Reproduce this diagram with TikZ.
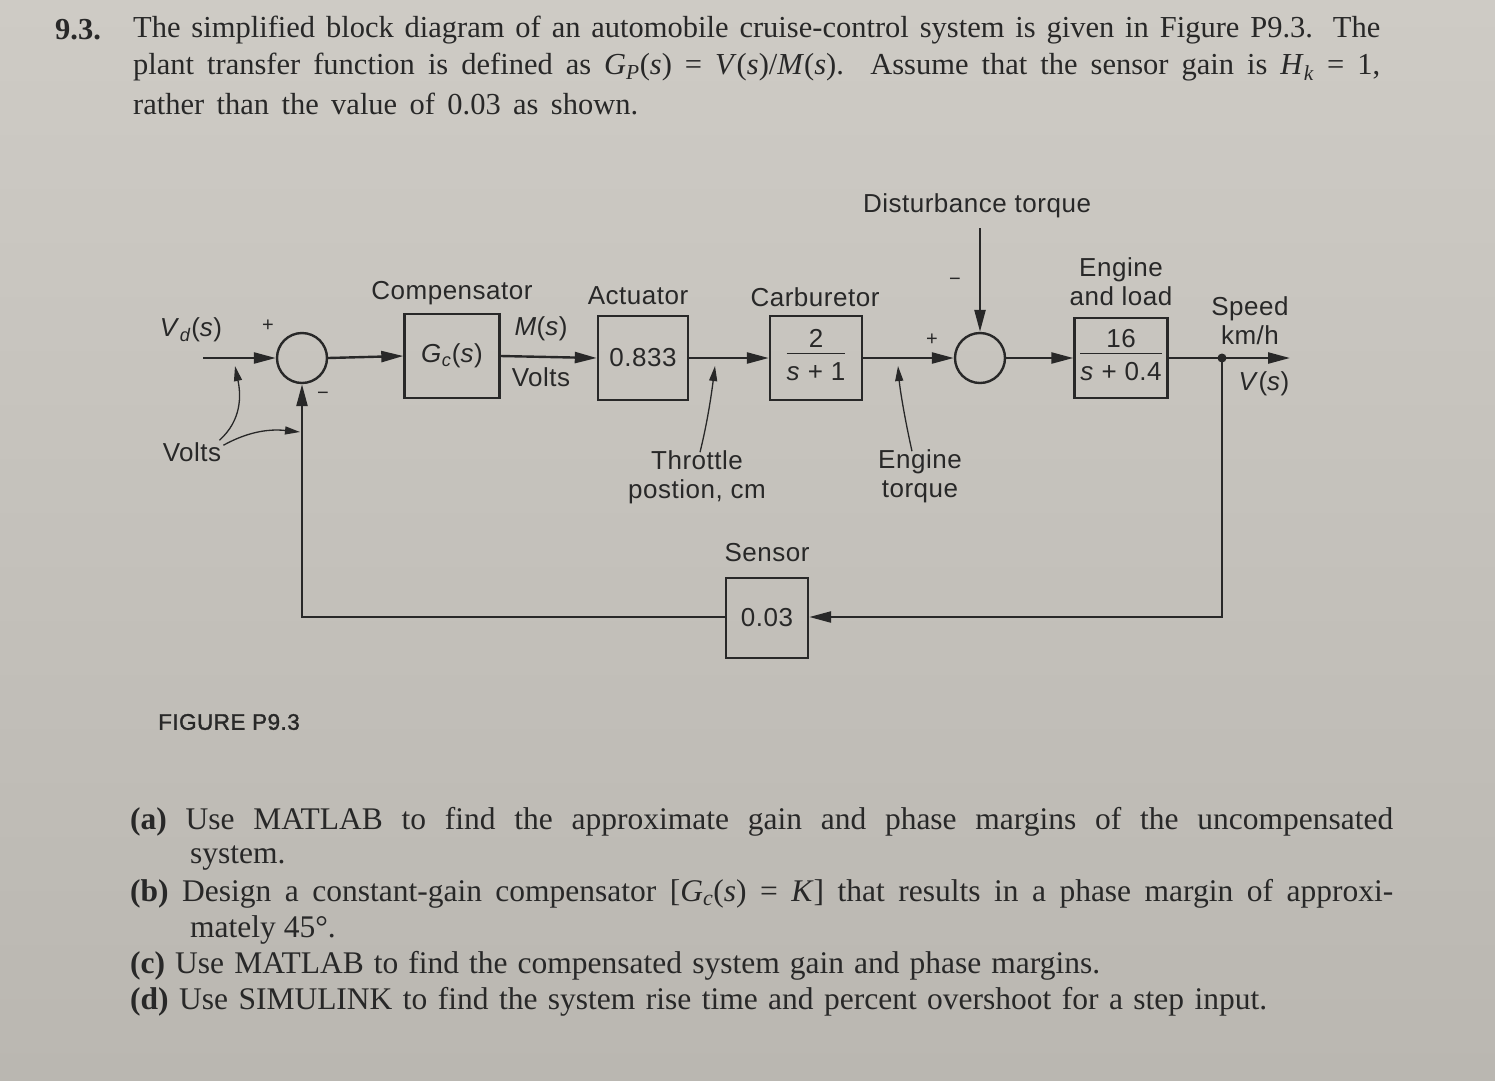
\documentclass[tikz,border=0pt]{standalone}
\usepackage{fontspec}
\setmainfont{Liberation Serif}
\newfontfamily\dsans[LetterSpace=2]{Liberation Sans}
\newfontfamily\figfont[FakeBold=1.5,LetterSpace=2]{Liberation Sans}
\usetikzlibrary{arrows.meta,calc}
\definecolor{ink}{RGB}{40,40,40}
\definecolor{paperA}{RGB}{206,203,197}
\definecolor{paperB}{RGB}{186,183,177}
\newcommand\tfr[2]{\begin{tabular}{@{}c@{}}#1\\[-3pt]\hline\rule{0pt}{26pt}#2\end{tabular}}
\setlength{\arrayrulewidth}{1.6pt}
\begin{document}
\begin{tikzpicture}[x=1pt,y=-1pt,
  blk/.style={draw=ink, line width=2.4pt, minimum width=92pt, minimum height=84pt, inner sep=2pt, font=\dsans\fontsize{26}{28}\selectfont, text=ink},
  sumj/.style={draw=ink, circle, line width=2.4pt, minimum size=50pt, inner sep=0pt},
  sig/.style={draw=ink, line width=2.4pt, -{Triangle[length=22pt,width=11pt]}},
  ann/.style={draw=ink, line width=1.3pt, -{Triangle[length=15pt,width=8pt]}},
  lbl/.style={font=\dsans\fontsize{26}{29}\selectfont, text=ink, inner sep=0pt, align=center},
  sgn/.style={font=\dsans\fontsize{20}{22}\selectfont, text=ink, inner sep=0pt},
  ttl/.style={font=\fontsize{30.5}{33}\selectfont, text=ink, inner sep=0pt, anchor=west},
  qst/.style={font=\fontsize{31.5}{33}\selectfont, text=ink, inner sep=0pt, anchor=west},
]
% paper
\shade[top color=paperA, bottom color=paperB] (0,0) rectangle (1495,1080);
\useasboundingbox (0,0) rectangle (1495,1080);

% problem statement
\node[ttl, font=\bfseries\fontsize{30.5}{33}\selectfont] (num) at (55,30) {9.3.};
\node[ttl] (t1) at (133,30) {\makebox[1247pt][s]{The simplified block diagram of an automobile cruise-control system is given in Figure P9.3. The}};
\node[ttl] (t2) at (133,67) {\makebox[1247pt][s]{plant transfer function is defined as \textit{G}\textsubscript{\textit{P}}(\textit{s}) = \textit{V}(\textit{s})/\textit{M}(\textit{s}). Assume that the sensor gain is \textit{H}\textsubscript{\textit{k}} = 1,}};
\node[ttl] (t3) at (133,104) {\makebox[505pt][s]{rather than the value of 0.03 as shown.}};

% blocks
\node[sumj] (s1) at (302,358) {};
\node[blk, minimum width=95pt] (gc) at (452,356) {\textit{G}\textsubscript{\textit{c}}(\textit{s})};
\node[blk, minimum width=90pt] (act) at (643,358) {0.833};
\node[blk] (carb) at (816,358) {\tfr{2}{\textit{s} + 1}};
\node[sumj] (s2) at (980,358) {};
\node[blk, minimum width=93pt, minimum height=80pt] (eng) at (1121,358) {\tfr{16}{\textit{s} + 0.4}};
\node[blk, minimum width=82pt, minimum height=80pt] (sen) at (767,618) {0.03};

% labels
\node[lbl] (lcomp) at (452,293) {Compensator};
\node[lbl] (lact) at (638,296) {Actuator};
\node[lbl] (lcarb) at (815,297) {Carburetor};
\node[lbl] (leng) at (1121,282) {Engine\\and load};
\node[lbl] (ldist) at (977,206) {Disturbance torque};
\node[lbl] (lspeed) at (1250,321) {Speed\\km/h};
\node[lbl] (lv) at (1264,384) {\textit{V}(\textit{s})};
\node[lbl] (lvd) at (191,330) {\textit{V}\textsubscript{\textit{d}}(\textit{s})};
\node[lbl] (lm) at (541,329) {\textit{M}(\textit{s})};
\node[lbl] (lvolts) at (541,377) {Volts};
\node[lbl] (lsensor) at (767,553) {Sensor};
\node[lbl] (lvolts2) at (192,452) {Volts};
\node[lbl] (lthr) at (697,477) {Throttle\\postion, cm};
\node[lbl] (ltor) at (920,476) {Engine\\torque};
\node[sgn] (p1) at (268,326) {+};
\node[sgn] (m1) at (323,396) {\textminus};
\node[sgn] (p2) at (932,340) {+};
\node[sgn] (m2) at (955,282) {\textminus};
\node[font=\figfont\fontsize{22.5}{26}\selectfont, text=ink, inner sep=0pt, anchor=west] (fig) at (158,722) {FIGURE P9.3};

% signal lines
\coordinate (in) at (203,358);
\coordinate (dist) at (980,228);
\coordinate (out) at (1290,358);
\coordinate (tap) at (1222,358);
\coordinate (fbR) at (1222,617);
\coordinate (fbL) at (302,617);
\draw[sig] (in) -- (s1.west);
\draw[sig] (s1.east) -- (gc.west);
\draw[sig] (gc.east) -- (act.west);
\draw[sig] (act.east) -- (carb.west);
\draw[sig] (carb.east) -- (s2.west);
\draw[sig] (s2.east) -- (eng.west);
\draw[sig] (eng.east) -- (out);
\draw[sig] (dist) -- (s2.north);
\fill[ink] (tap) circle (4.5pt);
\draw[sig] (tap) -- (fbR) -- (sen.east |- fbR);
\draw[sig] (sen.west |- fbL) -- (fbL) -- (s1.south);

% annotation pointers
\coordinate (a1) at (235,366);
\coordinate (a2) at (300,432);
\coordinate (a3) at (715,366);
\coordinate (a4) at (898,366);
\draw[ann] ([xshift=-2pt,yshift=2pt]lvolts2.north east) .. controls (242,420) and (241,395) .. (a1);
\draw[ann] ([xshift=2pt,yshift=-3pt]lvolts2.north east) .. controls (240,436) and (262,428) .. (a2);
\draw[ann] ([xshift=3pt,yshift=-2pt]lthr.north) .. controls (708,420) and (712,390) .. (a3);
\draw[ann] ([xshift=-8pt,yshift=-2pt]ltor.north) .. controls (905,420) and (900,390) .. (a4);

% questions
\node[qst] (qa) at (130,822) {\makebox[1263pt][s]{\textbf{(a)} Use MATLAB to find the approximate gain and phase margins of the uncompensated}};
\node[qst] (qa2) at (190,858) {system.};
\node[qst] (qb) at (130,894) {\makebox[1263pt][s]{\textbf{(b)} Design a constant-gain compensator [\textit{G}\textsubscript{\textit{c}}(\textit{s}) = \textit{K}] that results in a phase margin of approxi-}};
\node[qst] (qb2) at (190,930) {mately 45°.};
\node[qst] (qc) at (130,966) {\makebox[970pt][s]{\textbf{(c)} Use MATLAB to find the compensated system gain and phase margins.}};
\node[qst] (qd) at (130,1002) {\makebox[1137pt][s]{\textbf{(d)} Use SIMULINK to find the system rise time and percent overshoot for a step input.}};
\end{tikzpicture}
\end{document}
